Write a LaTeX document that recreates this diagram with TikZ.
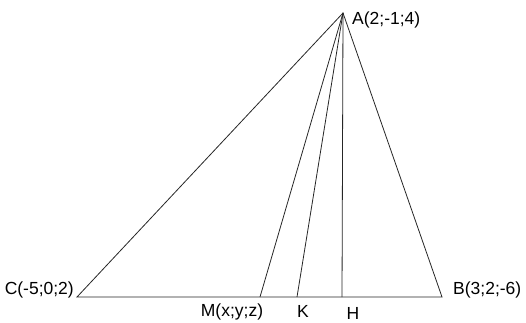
\documentclass[tikz,border=0pt]{standalone}
\usepackage{fontspec}
\setmainfont{Liberation Sans}
\begin{document}
\begin{tikzpicture}[x=1pt,y=-1pt,
  seg/.style={draw=black!85,line width=0.8pt},
  lbl/.style={inner sep=0pt,font=\fontsize{17.5}{20}\selectfont}]
\useasboundingbox (0,0) rectangle (526,323);
\coordinate (A) at (343,13);
\coordinate (C) at (77,297);
\coordinate (B) at (442,297);
\coordinate (M) at (260,297);
\coordinate (K) at (297,297);
\coordinate (H) at (342,297);
\draw[seg] (C) -- (A) -- (B) -- cycle;
\draw[seg] (A) -- (M);
\draw[seg] (A) -- (K);
\draw[seg] (A) -- (H);
\node[lbl,anchor=west] (la) at (352,20) {A(2;-1;4)};
\node[lbl,anchor=east] (lc) at (74,290) {C(-5;0;2)};
\node[lbl,anchor=west] (lb) at (453,290) {B(3;2;-6)};
\node[lbl] (lm) at (232,312) {M(x;y;z)};
\node[lbl] (lk) at (303,311) {K};
\node[lbl] (lh) at (353,313) {H};
\end{tikzpicture}
\end{document}
